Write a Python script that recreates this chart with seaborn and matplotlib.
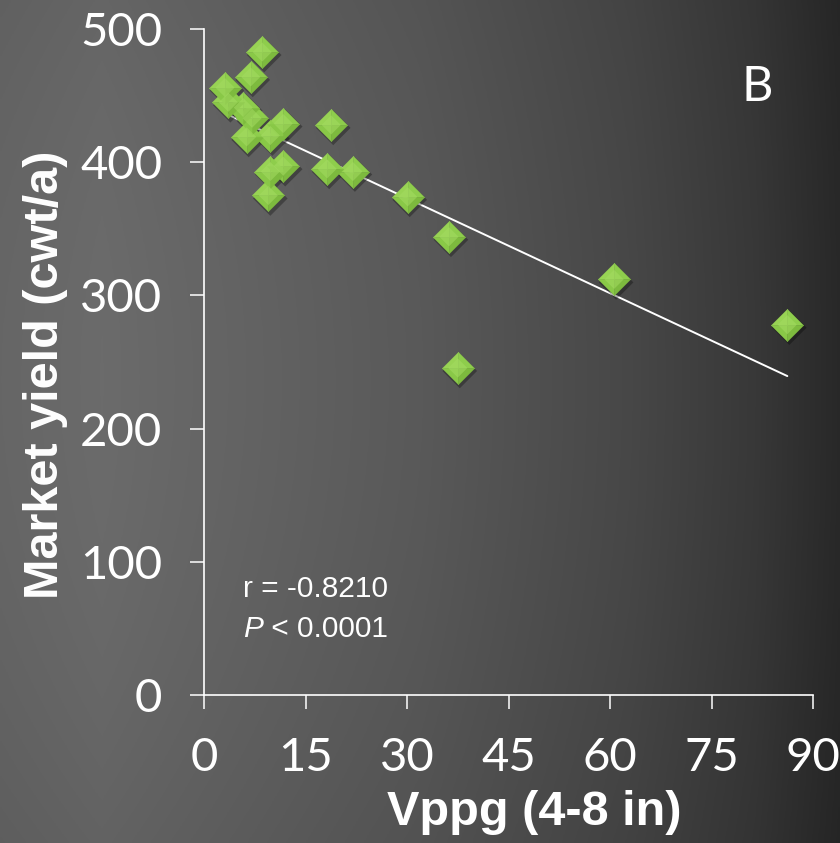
import numpy as np
import pandas as pd
import matplotlib
matplotlib.use("Agg")
import matplotlib.pyplot as plt
from matplotlib.path import Path
from matplotlib.transforms import offset_copy
import seaborn as sns

# Vppg (4-8 in) vs. market yield (cwt/a)
vppg = [8.6, 6.9, 3.1, 3.6, 5.8, 7.1, 6.3, 9.8, 11.7, 18.8,
        9.8, 11.7, 9.5, 18.2, 22.0, 30.1, 36.2, 37.5, 60.6, 86.2]
market_yield = [482.7, 464, 456, 445, 441, 433, 419, 420, 429, 428,
                393, 397, 375, 395, 393, 374, 344, 245.5, 312, 278]
x_ticks = [0, 15, 30, 45, 60, 75, 90]
y_ticks = [0, 100, 200, 300, 400, 500]
stats_r = "r = -0.8210"
stats_p = "< 0.0001"
panel = "B"

df = pd.DataFrame({"vppg": vppg, "yield": market_yield})

sns.set_theme(style="white")
plt.rcParams["font.family"] = ["Lato", "DejaVu Sans"]

fig = plt.figure(figsize=(8.4, 8.43), dpi=100)

# dark slide-style background, lighter towards the left
bg = fig.add_axes([0, 0, 1, 1], zorder=-10)
h, w = 300, 300
xx, yy = np.meshgrid(np.linspace(0, 1, w), np.linspace(0, 1, h))
v = np.interp(xx, [0, 0.12, 0.5, 0.75, 0.9, 1.0], [0.40, 0.42, 0.35, 0.28, 0.22, 0.16])
v = v * (1 - 0.08 * ((yy - 0.45) / 0.55) ** 2)
bg.imshow(np.dstack([v, v, v]), aspect="auto", extent=[0, 1, 0, 1], origin="upper")
bg.axis("off")

ax = fig.add_axes([0.2429, 0.1756, 0.725, 0.790])
ax.patch.set_alpha(0)

# regression line over the data range
sns.regplot(data=df, x="vppg", y="yield", ax=ax, scatter=False, ci=None,
            truncate=True, line_kws=dict(color="white", lw=1.4, zorder=2))

# bevelled diamond markers: drop shadow, base, four softly shaded facets
diamond = Path([(0, 1), (1, 0), (0, -1), (-1, 0), (0, 1)], closed=True)
facets = [
    (Path([(0, 0), (-1, 0), (0, 1), (0, 0)], closed=True), "#98d354"),
    (Path([(0, 0), (0, 1), (1, 0), (0, 0)], closed=True), "#8ecd4c"),
    (Path([(0, 0), (-1, 0), (0, -1), (0, 0)], closed=True), "#89c847"),
    (Path([(0, 0), (0, -1), (1, 0), (0, 0)], closed=True), "#7dba3e"),
]
msize = 540

sns.scatterplot(data=df, x="vppg", y="yield", ax=ax, marker=diamond, s=msize * 1.15,
                color="black", alpha=0.3, edgecolor="none", linewidth=0, zorder=3)
ax.collections[-1].set_offset_transform(offset_copy(ax.transData, fig=fig, x=2, y=-3, units="dots"))

for path, col in facets:
    sns.scatterplot(data=df, x="vppg", y="yield", ax=ax, marker=path, s=msize,
                    color=col, edgecolor=col, linewidth=0.3, zorder=4)

# lighter inner highlight
sns.scatterplot(data=df, x="vppg", y="yield", ax=ax, marker=diamond, s=msize * 0.35,
                color="#a4dc62", alpha=0.55, edgecolor="none", linewidth=0, zorder=5)

ax.set_xlim(0, 90)
ax.set_ylim(0, 500)
ax.set_xticks(x_ticks)
ax.set_yticks(y_ticks)

for side in ["top", "right"]:
    ax.spines[side].set_visible(False)
for side in ["left", "bottom"]:
    ax.spines[side].set_color("white")
    ax.spines[side].set_linewidth(1.2)

ax.tick_params(axis="both", direction="out", length=10, width=1.1, color="white",
               labelcolor="white", labelsize=34, pad=20, left=True, bottom=True)

ax.set_xlabel("Vppg (4-8 in)", color="white", fontsize=35, fontweight="bold",
              family="Liberation Sans", va="center")
ax.xaxis.set_label_coords(0.543, -0.176)
ax.set_ylabel("Market yield (cwt/a)", color="white", fontsize=35, fontweight="bold",
              family="Liberation Sans", va="center")
ax.yaxis.set_label_coords(-0.261, 0.480)

ax.text(0.908, 0.913, panel, transform=ax.transAxes, color="white", fontsize=35,
        ha="center", va="center")

ax.text(0.064, 0.147, stats_r, transform=ax.transAxes, color="white", fontsize=21.5,
        family="Liberation Sans", va="baseline", ha="left")
tp = ax.text(0.064, 0.087, "P", transform=ax.transAxes, color="white", fontsize=21.5,
             family="Liberation Sans", style="italic", va="baseline", ha="left")
ax.annotate(" " + stats_p, xy=(1, 0), xycoords=tp, color="white", fontsize=21.5,
            family="Liberation Sans", va="bottom", ha="left")

fig.savefig("out.png", dpi=100)
